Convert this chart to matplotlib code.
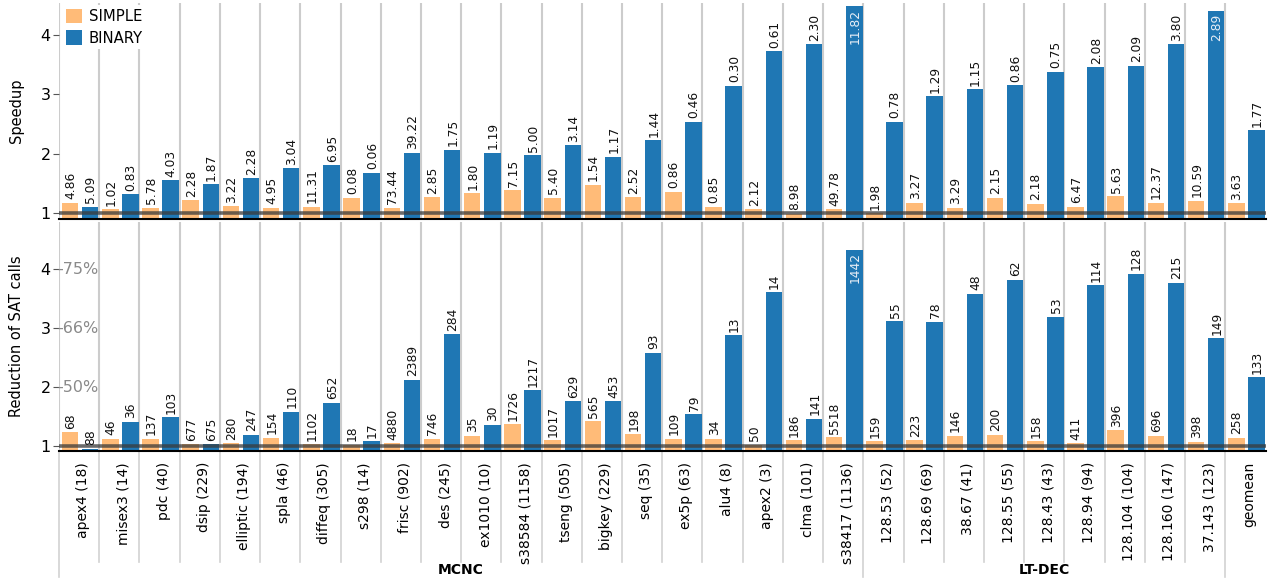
import matplotlib
matplotlib.use("Agg")
import matplotlib.pyplot as plt
import matplotlib.transforms as mtransforms
from matplotlib.lines import Line2D

# ---------------- data ----------------
categories = ["apex4 (18)", "misex3 (14)", "pdc (40)", "dsip (229)", "elliptic (194)",
              "spla (46)", "diffeq (305)", "s298 (14)", "frisc (902)", "des (245)",
              "ex1010 (10)", "s38584 (1158)", "tseng (505)", "bigkey (229)", "seq (35)",
              "ex5p (63)", "alu4 (8)", "apex2 (3)", "clma (101)", "s38417 (1136)",
              "128.53 (52)", "128.69 (69)", "38.67 (41)", "128.55 (55)", "128.43 (43)",
              "128.94 (94)", "128.104 (104)", "128.160 (147)", "37.143 (123)", "geomean"]

speedup_simple = [1.18, 1.07, 1.09, 1.22, 1.12, 1.09, 1.11, 1.26, 1.09, 1.27,
                  1.34, 1.39, 1.26, 1.48, 1.27, 1.36, 1.11, 1.07, 0.99, 1.07,
                  1.00, 1.18, 1.09, 1.26, 1.16, 1.11, 1.29, 1.18, 1.21, 1.17]
speedup_binary = [1.11, 1.32, 1.56, 1.49, 1.59, 1.76, 1.81, 1.68, 2.02, 2.07,
                  2.02, 1.98, 2.15, 1.95, 2.23, 2.54, 3.15, 3.73, 3.85, 4.49,
                  2.54, 2.97, 3.09, 3.16, 3.38, 3.46, 3.48, 3.85, 4.41, 2.40]
speedup_simple_labels = ["4.86", "1.02", "5.78", "2.28", "3.22", "4.95", "11.31", "0.08", "73.44", "2.85",
                         "1.80", "7.15", "5.40", "1.54", "2.52", "0.86", "0.85", "2.12", "8.98", "49.78",
                         "1.98", "3.27", "3.29", "2.15", "2.18", "6.47", "5.63", "12.37", "10.59", "3.63"]
speedup_binary_labels = ["5.09", "0.83", "4.03", "1.87", "2.28", "3.04", "6.95", "0.06", "39.22", "1.75",
                         "1.19", "5.00", "3.14", "1.17", "1.44", "0.46", "0.30", "0.61", "2.30", "11.82",
                         "0.78", "1.29", "1.15", "0.86", "0.75", "2.08", "2.09", "3.80", "2.89", "1.77"]

sat_simple = [1.23, 1.12, 1.12, 1.03, 1.05, 1.14, 1.03, 1.02, 1.05, 1.12,
              1.17, 1.37, 1.10, 1.42, 1.20, 1.12, 1.12, 1.02, 1.10, 1.15,
              1.08, 1.10, 1.17, 1.19, 1.08, 1.05, 1.27, 1.17, 1.07, 1.14]
sat_binary = [0.95, 1.41, 1.49, 1.03, 1.19, 1.58, 1.73, 1.08, 2.12, 2.90,
              1.36, 1.95, 1.76, 1.76, 2.58, 1.54, 2.88, 3.61, 1.46, 4.33,
              3.12, 3.11, 3.58, 3.82, 3.19, 3.73, 3.92, 3.77, 2.83, 2.17]
sat_simple_labels = ["68", "46", "137", "677", "280", "154", "1102", "18", "4880", "746",
                     "35", "1726", "1017", "565", "198", "109", "34", "50", "186", "5518",
                     "159", "223", "146", "200", "158", "411", "396", "696", "398", "258"]
sat_binary_labels = ["88", "36", "103", "675", "247", "110", "652", "17", "2389", "284",
                     "30", "1217", "629", "453", "93", "79", "13", "14", "141", "1442",
                     "55", "78", "48", "62", "53", "114", "128", "215", "149", "133"]

yticks = [1, 2, 3, 4]
reduction_marks = {4: "-75%", 3: "-66%", 2: "-50%"}
groups = [("MCNC", 0, 19), ("LT-DEC", 20, 28)]
long_separators = [-0.5, 19.5, 28.5]

# ---------------- style ----------------
C_SIMPLE = "#ffbb78"
C_BINARY = "#1f77b4"
SEP = "#cccccc"
plt.rcParams["font.family"] = ["DejaVu Sans"]

W, H = 1268, 583
fig = plt.figure(figsize=(W / 100, H / 100), dpi=100)

left = 59 / W
width = (1265.5 - 59) / W
ax1 = fig.add_axes([left, 1 - 219 / H, width, (219 - 3) / H])
ax2 = fig.add_axes([left, 1 - 451 / H, width, (451 - 222) / H])

n = len(categories)
xs = list(range(n))
OFF_S, OFF_B, BW = -0.225, 0.275, 0.41


def draw_panel(ax, simple, binary, slabels, blabels, ylim):
    ax.set_xlim(-0.5, n - 0.5)
    ax.set_ylim(*ylim)
    for i in range(n):
        ax.axvline(i - 0.5, color=SEP, lw=1.5, zorder=0)
    bs = ax.bar([x + OFF_S for x in xs], simple, BW, color=C_SIMPLE, zorder=2, label="SIMPLE")
    bb = ax.bar([x + OFF_B for x in xs], binary, BW, color=C_BINARY, zorder=2, label="BINARY")
    ax.axhline(1, color="#3a3a3a", alpha=0.75, lw=2.6, zorder=4)
    thresh = ylim[1] - 0.6
    for bars, labels in ((bs, slabels), (bb, blabels)):
        for rect, lab in zip(bars, labels):
            h = rect.get_height()
            xc = rect.get_x() + rect.get_width() / 2
            if h > thresh:
                ax.annotate(lab, (xc, h), xytext=(0.5, -2), textcoords="offset points",
                            rotation=90, ha="center", va="top", fontsize=8.8,
                            color="#e8eef6", zorder=5)
            else:
                ax.annotate(lab, (xc, h), xytext=(0.5, 2.5), textcoords="offset points",
                            rotation=90, ha="center", va="bottom", fontsize=8.8,
                            color="#111111", zorder=5)
    for s in ("top", "right", "left"):
        ax.spines[s].set_visible(False)
    ax.spines["bottom"].set_color("black")
    ax.spines["bottom"].set_linewidth(1.5)
    ax.spines["bottom"].set_zorder(6)
    ax.set_yticks(yticks)
    ax.set_yticklabels([str(t) for t in yticks])
    ax.tick_params(axis="y", length=4, width=0.8, color="#555555", labelsize=11.5, pad=2)
    return bs, bb


bs, bb = draw_panel(ax1, speedup_simple, speedup_binary, speedup_simple_labels,
                    speedup_binary_labels, (0.904, 4.54))
draw_panel(ax2, sat_simple, sat_binary, sat_simple_labels, sat_binary_labels, (0.915, 4.80))

ax1.set_xticks([])
ax1.set_ylabel("Speedup", fontsize=10.5)
ax2.set_ylabel("Reduction of SAT calls", fontsize=10.5)
ax1.yaxis.set_label_coords(-0.029, 0.5)
ax2.yaxis.set_label_coords(-0.029, 0.5)

ax2.set_xticks([x + 0.1 for x in xs])
ax2.set_xticklabels(categories, rotation=90, fontsize=10, va="top", ha="center")
ax2.tick_params(axis="x", length=0, pad=8)

for yv, txt in reduction_marks.items():
    ax2.text(-0.55, yv, txt, color="#8a8a8a", fontsize=11.5, ha="left", va="center", zorder=5)

# separators extending below the bottom axis
trans = mtransforms.blended_transform_factory(ax2.transData, ax2.transAxes)
for i in range(n):
    xsep = i - 0.5
    ybot = -0.55 if xsep in long_separators else -0.485
    ax2.add_line(Line2D([xsep, xsep], [0, ybot], transform=trans, color="#d2d2d2",
                        lw=1.2, clip_on=False, zorder=0))
for name, a, b in groups:
    ax2.text((a + b) / 2, -0.52, name, transform=trans, ha="center", va="center",
             fontsize=10, fontweight="bold")

leg = ax1.legend(handles=[bs, bb], loc="upper left", bbox_to_anchor=(0.0, 1.005),
                 frameon=True, facecolor="white", edgecolor="none", framealpha=1,
                 fancybox=False, fontsize=10.7, handlelength=1.1, handleheight=1.1,
                 borderpad=0.25, labelspacing=0.45, handletextpad=0.45, borderaxespad=0.2)
leg.set_zorder(10)

fig.savefig("out.png", dpi=100)
